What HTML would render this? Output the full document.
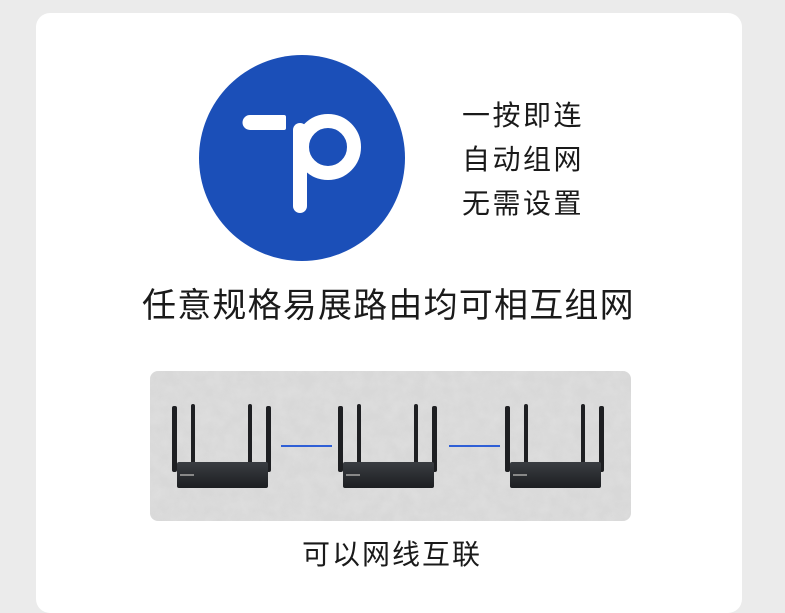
<!DOCTYPE html>
<html><head><meta charset="utf-8"><style>
html,body{margin:0;padding:0}
body{width:785px;height:584px;background:#ebebeb;position:relative;overflow:hidden;font-family:"Liberation Sans","Noto Sans CJK SC",sans-serif;color:#1a1a1a}
.card{position:absolute;left:36px;top:13px;width:706px;height:600px;background:#fff;border-radius:14px}
.t{position:absolute;white-space:nowrap;line-height:1}
</style></head><body>
<div class="card"></div>
<svg style="position:absolute;left:0;top:0" width="785" height="584">
<defs>
<filter id="n" filterUnits="userSpaceOnUse" x="150" y="371" width="481" height="150"><feTurbulence type="fractalNoise" baseFrequency="0.08" numOctaves="3" seed="3"/><feColorMatrix type="matrix" values="0 0 0 0 0.78 0 0 0 0 0.78 0 0 0 0 0.78 0 0 0 1.2 -0.3"/></filter>
<clipPath id="c"><rect x="150" y="371" width="481" height="150" rx="8"/></clipPath>
<linearGradient id="g" x1="0" y1="0" x2="0" y2="1"><stop offset="0" stop-color="#3a3d42"/><stop offset="1" stop-color="#1c1e21"/></linearGradient>
</defs>
<circle cx="302" cy="158" r="103" fill="#1b4fb8"/>
<path d="M250 115 H284 a2 2 0 0 1 2 2 V128 a2 2 0 0 1 -2 2 H250 a7.5 7.5 0 0 1 0 -15z" fill="#fff"/>
<line x1="300" y1="130" x2="300" y2="206" stroke="#fff" stroke-width="14" stroke-linecap="round"/>
<circle cx="328" cy="147" r="26" fill="none" stroke="#fff" stroke-width="14"/>
<rect x="150" y="371" width="481" height="150" rx="8" fill="#d8d8d8"/>
<g clip-path="url(#c)"><rect x="150" y="371" width="481" height="150" fill="#fff" filter="url(#n)" opacity="0.6"/></g>
<g id="r">
<rect x="172" y="406" width="5" height="66" rx="2" fill="#1e1f22"/>
<rect x="191" y="404" width="4" height="62" rx="2" fill="#1e1f22"/>
<rect x="248" y="404" width="4" height="62" rx="2" fill="#1e1f22"/>
<rect x="266" y="406" width="5" height="66" rx="2" fill="#1e1f22"/>
<rect x="177" y="462" width="91" height="26" rx="2" fill="url(#g)"/>
<rect x="180" y="474" width="14" height="2" fill="#888"/>
</g>
<use href="#r" x="166"/>
<use href="#r" x="333"/>
<line x1="281" y1="446" x2="332" y2="446" stroke="#2f5fd6" stroke-width="2"/>
<line x1="449" y1="446" x2="500" y2="446" stroke="#2f5fd6" stroke-width="2"/>
</svg>
<div class="t" style="left:462px;top:94px;font-size:28px;letter-spacing:2.5px;line-height:44px">一按即连<br>自动组网<br>无需设置</div>
<div class="t" style="left:142px;top:289px;font-size:34px;letter-spacing:1.2px">任意规格易展路由均可相互组网</div>
<div class="t" style="left:302px;top:541px;font-size:28px;letter-spacing:2px">可以网线互联</div>
</body></html>
